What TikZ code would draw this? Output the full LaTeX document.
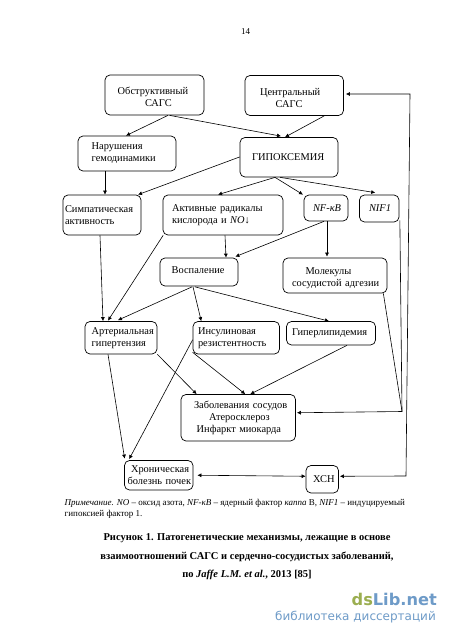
\documentclass[tikz,border=0pt]{standalone}
\usepackage{fontspec}
\setmainfont{Liberation Serif}
\newfontfamily\logofont{DejaVu Sans}
\usetikzlibrary{arrows.meta,calc}
\definecolor{logogreen}{HTML}{9BAE50}
\definecolor{logoblue}{HTML}{6E9BC8}
\newcommand{\bx}[6]{%
  \pgfmathsetmacro{\bw}{#4-#2}\pgfmathsetmacro{\bh}{#5-#3}%
  \node[bxs,minimum width=\bw pt,minimum height=\bh pt,text width=\bw pt] (#1) at ({(#2+#4)/2},{(#3+#5)/2}) {#6};}
\newcommand{\ind}[1]{\hspace*{#1pt}}
\begin{document}
\begin{tikzpicture}[x=1pt,y=-1pt,
  bxs/.style={draw=black,line width=0.7pt,rounded corners=5pt,inner sep=0pt,align=left,font=\fontsize{10.4}{12}\selectfont},
  arr/.style={draw=black,line width=0.6pt,-{Latex[length=4pt,width=4pt]}},
  arrb/.style={draw=black,line width=0.6pt,{Latex[length=4pt,width=4pt]}-{Latex[length=4pt,width=4pt]}},
  note/.style={inner sep=0pt,anchor=base west,font=\fontsize{9}{10}\selectfont},
  capt/.style={inner sep=0pt,anchor=base,font=\fontsize{10.5}{12}\selectfont\bfseries}]
\useasboundingbox (0,0) rectangle (450,637);
\fill[white] (0,0) rectangle (450,637);
\node[inner sep=0pt,font=\fontsize{9}{11}\selectfont] (pg) at (245.5,31.5) {14};
\bx{obstr}{105}{75}{204}{115}{\rule{0pt}{12pt}\ind{12.7}Обструктивный\\\ind{40}САГС}
\bx{centr}{245}{75.5}{343.5}{115.5}{\rule{0pt}{11.5pt}\ind{15}Центральный\\\ind{30.7}САГС}
\bx{narush}{78}{136}{176}{171}{\ind{13.7}Нарушения\\\ind{13.7}гемодинамики}
\bx{gipox}{240}{137.5}{338}{177}{\ind{12}ГИПОКСЕМИЯ}
\bx{simp}{63}{195}{141}{235}{\ind{2}Симпатическая\\\ind{2}активность}
\bx{activ}{163}{195}{283}{235}{\ind{9}Активные радикалы\\\ind{9}кислорода и \textit{NO}↓}
\bx{nfkb}{304}{195}{348}{221}{\ind{9}\textit{NF-κB}}
\bx{nif}{359.5}{195}{399}{222}{\ind{9.5}\textit{NIF1}}
\bx{vosp}{160}{258}{238}{286}{\rule[-4.5pt]{0pt}{1pt}\ind{11.7}Воспаление}
\bx{molek}{283}{258}{387}{293}{\rule{0pt}{12pt}\ind{22.7}Молекулы\\\ind{9}сосудистой адгезии}
\bx{arter}{85}{321.5}{157}{354}{\ind{6.7}Артериальная\\\ind{6.7}гипертензия}
\bx{insul}{193}{321.5}{279.5}{354}{\ind{5}Инсулиновая\\\ind{5}резистентность}
\bx{giper}{286.5}{321.5}{375.5}{345}{\ind{5.5}Гиперлипидемия}
\bx{zabol}{181}{394.5}{295.5}{441}{\ind{13}Заболевания сосудов\\\ind{28}Атеросклероз\\\ind{15.7}Инфаркт миокарда}
\bx{hron}{124.5}{460.5}{193}{490}{\ind{6.5}Хроническая\\\ind{3}болезнь почек}
\bx{xsn}{306}{465.5}{338.5}{493}{\ind{7}ХСН}
% connectors
\draw[arr] ($(obstr.south)+(13.5,0)$) -- ($(narush.north)+(-1,0)$);
\draw[arr] ($(obstr.south)+(15,0)$) -- ($(gipox.north)+(-8,-1)$);
\draw[arr] ($(centr.south)+(30,0)$) -- ($(gipox.north)+(-4,0)$);
\draw[arr] ($(narush.south)+(-22,0)$) -- ($(simp.north)+(3,0)$);
\draw[arr] (gipox.west) ++(0,-0.3) -- ($(simp.north)+(36,0)$);
\draw[arr] ($(gipox.south)+(-14,0)$) -- ($(activ.north)+(-5,0)$);
\draw[arr] ($(gipox.south)+(-14,0)$) -- ($(nfkb.north)+(-23,0)$);
\draw[arr] ($(gipox.south)+(-9,0)$) -- ($(nif.north)+(-4,-2)$);
\draw[arr] ($(nfkb.south)+(-2,0)$) -- ($(vosp.north east)+(-3,-1)$);
\draw[arr] ($(nfkb.south)+(1,0)$) -- ($(molek.north)+(-8,-1)$);
\draw[arr] ($(activ.south)+(2,0)$) -- ($(vosp.north)+(27,0)$);
\draw[arr] ($(simp.south)+(-2,0)$) -- ($(arter.north)+(-18,0)$);
\draw[arr] ($(activ.south west)+(0.5,0)$) -- ($(arter.north)+(-13,-0.5)$);
\draw[arr] ($(vosp.south)+(-7,0.5)$) -- ($(arter.north)+(-3,-1)$);
\draw[arr] ($(vosp.south)+(-6,0.5)$) -- ($(insul.north)+(-35,0)$);
\draw[arr] ($(vosp.south)+(-4,0.5)$) -- ($(giper.north)+(-2,0)$);
\draw[arr] (arter.south east) -- ($(zabol.north west)+(16,0)$);
\draw[arr] ($(insul.south west)+(0,-2)$) -- ($(zabol.north)+(7,0)$);
\draw[arr] ($(giper.south)+(16,0)$) -- ($(zabol.north)+(12,0)$);
\coordinate (jn) at (402,411.5);
\draw[line width=0.6pt] ($(molek.south east)+(-4,0)$) -- (jn);
\draw[line width=0.6pt] ($(nif.south east)+(0.5,-2)$) -- (jn);
\draw[arr] (jn) -- ($(zabol.east)+(1,-5)$);
\draw[arr] ($(arter.south)+(-13,0)$) -- ($(hron.north west)+(0.5,-1.5)$);
\draw[arr] ($(insul.west)+(0,2)$) -- ($(hron.north west)+(5,-1)$);
\coordinate (rb) at (406,476);
\coordinate (rt) at (410,94);
\draw[arrb] ($(xsn.east)+(1,-3)$) -- (rb) -- (rt) -- ($(centr.east)+(2,-1.5)$);
\draw[arrb] ($(hron.east)+(4,0)$) -- ($(xsn.west)+(0,-3)$);
% note
\node[note] (n1) at (64.5,505.5) {\textit{Примечание. NO} – оксид азота, \textit{NF-κB} – ядерный фактор \textit{каппа} В, \textit{NIF1} – индуцируемый};
\node[note] (n2) at (64.5,516) {гипоксией фактор 1.};
% caption
\node[capt] (c1) at (247,540) {Рисунок 1. Патогенетические механизмы, лежащие в основе};
\node[capt] (c2) at (247,559) {взаимоотношений САГС и сердечно-сосудистых заболеваний,};
\node[capt] (c3) at (247,577) {по \textit{Jaffe L.M. et al.}, 2013 [85]};
% logo
\node[inner sep=0pt,anchor=base east,font=\fontsize{16.2}{18}\selectfont\logofont\bfseries] (lg) at (437,605) {\textcolor{logogreen}{ds}\textcolor{logoblue}{Lib.net}};
\node[inner sep=0pt,anchor=base east,font=\fontsize{12}{14}\selectfont\logofont,text=logoblue] (lg2) at (436,620) {библиотека диссертаций};
\end{tikzpicture}
\end{document}
